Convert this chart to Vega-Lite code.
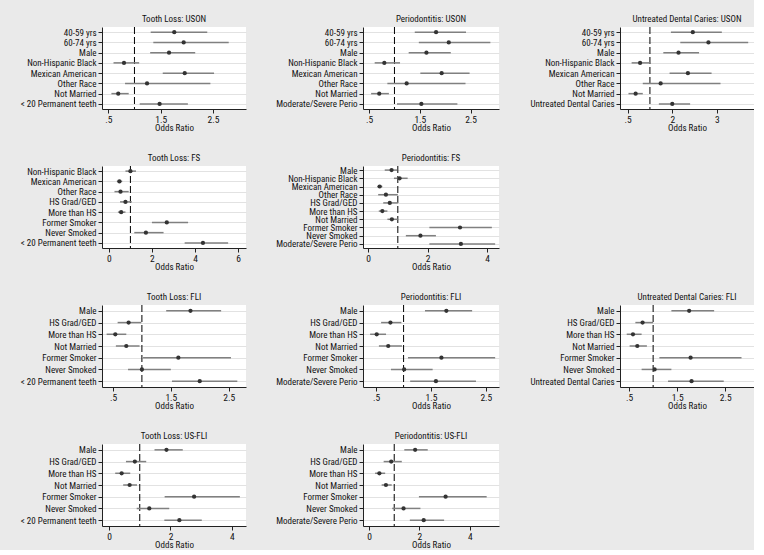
{
"$schema": "https://vega.github.io/schema/vega-lite/v6.json",
"background": "#eaeaea",
"padding": {"left": 5, "top": 14, "right": 0, "bottom": 0},
"config": {
 "font": "Roboto Condensed",
 "view": {"fill": "white", "stroke": null},
 "title": {"font": "Roboto Condensed", "fontSize": 9, "fontWeight": "normal", "color": "#111", "offset": 3, "frame": "group", "anchor": "middle"},
 "axis": {"labelFont": "Roboto Condensed", "titleFont": "Roboto Condensed", "labelColor": "#111", "domainColor": "#222", "tickColor": "#222", "tickSize": 4, "titleFontWeight": "normal", "titleColor": "#111", "labelOverlap": false},
 "axisY": {"grid": true, "gridColor": "#e2e2e2", "labelPadding": 2, "title": null},
 "axisX": {"grid": false, "labelPadding": 1, "titlePadding": 0, "labelFlush": false, "labelOverlap": false}
},
"datasets": {"d": [
{"p":1,"o":1,"l":"40-59 yrs","or":1.76,"lo":1.31,"hi":2.39},
{"p":1,"o":2,"l":"60-74 yrs","or":1.94,"lo":1.36,"hi":2.80},
{"p":1,"o":3,"l":"Male","or":1.66,"lo":1.30,"hi":2.16},
{"p":1,"o":4,"l":"Non-Hispanic Black","or":0.80,"lo":0.60,"hi":1.09},
{"p":1,"o":5,"l":"Mexican American","or":1.96,"lo":1.54,"hi":2.52},
{"p":1,"o":6,"l":"Other Race","or":1.24,"lo":0.82,"hi":2.45},
{"p":1,"o":7,"l":"Not Married","or":0.69,"lo":0.56,"hi":0.89},
{"p":1,"o":8,"l":"< 20 Permanent teeth","or":1.48,"lo":1.10,"hi":2.02},
{"p":2,"o":1,"l":"40-59 yrs","or":1.82,"lo":1.40,"hi":2.41},
{"p":2,"o":2,"l":"60-74 yrs","or":2.07,"lo":1.48,"hi":2.89},
{"p":2,"o":3,"l":"Male","or":1.63,"lo":1.28,"hi":2.11},
{"p":2,"o":4,"l":"Non-Hispanic Black","or":0.80,"lo":0.61,"hi":1.11},
{"p":2,"o":5,"l":"Mexican American","or":1.93,"lo":1.51,"hi":2.48},
{"p":2,"o":6,"l":"Other Race","or":1.24,"lo":0.86,"hi":2.40},
{"p":2,"o":7,"l":"Not Married","or":0.70,"lo":0.54,"hi":0.89},
{"p":2,"o":8,"l":"Moderate/Severe Perio","or":1.53,"lo":1.05,"hi":2.24},
{"p":3,"o":1,"l":"40-59 yrs","or":1.96,"lo":1.47,"hi":2.61},
{"p":3,"o":2,"l":"60-74 yrs","or":2.31,"lo":1.68,"hi":3.20},
{"p":3,"o":3,"l":"Male","or":1.64,"lo":1.30,"hi":2.10},
{"p":3,"o":4,"l":"Non-Hispanic Black","or":0.78,"lo":0.59,"hi":1.01},
{"p":3,"o":5,"l":"Mexican American","or":1.85,"lo":1.44,"hi":2.38},
{"p":3,"o":6,"l":"Other Race","or":1.24,"lo":0.84,"hi":2.58},
{"p":3,"o":7,"l":"Not Married","or":0.68,"lo":0.52,"hi":0.84},
{"p":3,"o":8,"l":"Untreated Dental Caries","or":1.50,"lo":1.20,"hi":1.90},
{"p":4,"o":1,"l":"Non-Hispanic Black","or":1.00,"lo":0.77,"hi":1.26},
{"p":4,"o":2,"l":"Mexican American","or":0.49,"lo":0.37,"hi":0.62},
{"p":4,"o":3,"l":"Other Race","or":0.54,"lo":0.26,"hi":0.92},
{"p":4,"o":4,"l":"HS Grad/GED","or":0.77,"lo":0.52,"hi":1.06},
{"p":4,"o":5,"l":"More than HS","or":0.57,"lo":0.42,"hi":0.77},
{"p":4,"o":6,"l":"Former Smoker","or":2.69,"lo":2.00,"hi":3.68},
{"p":4,"o":7,"l":"Never Smoked","or":1.72,"lo":1.18,"hi":2.54},
{"p":4,"o":8,"l":"< 20 Permanent teeth","or":4.37,"lo":3.52,"hi":5.54},
{"p":5,"o":1,"l":"Male","or":0.79,"lo":0.56,"hi":0.98},
{"p":5,"o":2,"l":"Non-Hispanic Black","or":1.06,"lo":0.87,"hi":1.33},
{"p":5,"o":3,"l":"Mexican American","or":0.39,"lo":0.31,"hi":0.48},
{"p":5,"o":4,"l":"Other Race","or":0.60,"lo":0.34,"hi":1.00},
{"p":5,"o":5,"l":"HS Grad/GED","or":0.73,"lo":0.51,"hi":1.00},
{"p":5,"o":6,"l":"More than HS","or":0.48,"lo":0.36,"hi":0.65},
{"p":5,"o":7,"l":"Not Married","or":0.80,"lo":0.65,"hi":1.00},
{"p":5,"o":8,"l":"Former Smoker","or":3.09,"lo":2.06,"hi":4.16},
{"p":5,"o":9,"l":"Never Smoked","or":1.76,"lo":1.27,"hi":2.28},
{"p":5,"o":10,"l":"Moderate/Severe Perio","or":3.12,"lo":2.06,"hi":4.27},
{"p":6,"o":1,"l":"Male","or":1.84,"lo":1.42,"hi":2.37},
{"p":6,"o":2,"l":"HS Grad/GED","or":0.77,"lo":0.58,"hi":0.99},
{"p":6,"o":3,"l":"More than HS","or":0.54,"lo":0.39,"hi":0.73},
{"p":6,"o":4,"l":"Not Married","or":0.73,"lo":0.55,"hi":0.96},
{"p":6,"o":5,"l":"Former Smoker","or":1.63,"lo":1.02,"hi":2.54},
{"p":6,"o":6,"l":"Never Smoked","or":1.00,"lo":0.76,"hi":1.50},
{"p":6,"o":7,"l":"< 20 Permanent teeth","or":2.00,"lo":1.52,"hi":2.65},
{"p":7,"o":1,"l":"Male","or":1.78,"lo":1.39,"hi":2.25},
{"p":7,"o":2,"l":"HS Grad/GED","or":0.76,"lo":0.59,"hi":0.96},
{"p":7,"o":3,"l":"More than HS","or":0.51,"lo":0.39,"hi":0.68},
{"p":7,"o":4,"l":"Not Married","or":0.72,"lo":0.55,"hi":0.97},
{"p":7,"o":5,"l":"Former Smoker","or":1.69,"lo":1.08,"hi":2.67},
{"p":7,"o":6,"l":"Never Smoked","or":1.01,"lo":0.77,"hi":1.53},
{"p":7,"o":7,"l":"Moderate/Severe Perio","or":1.59,"lo":1.12,"hi":2.32},
{"p":8,"o":1,"l":"Male","or":1.75,"lo":1.38,"hi":2.27},
{"p":8,"o":2,"l":"HS Grad/GED","or":0.78,"lo":0.63,"hi":1.00},
{"p":8,"o":3,"l":"More than HS","or":0.58,"lo":0.45,"hi":0.76},
{"p":8,"o":4,"l":"Not Married","or":0.67,"lo":0.51,"hi":0.87},
{"p":8,"o":5,"l":"Former Smoker","or":1.78,"lo":1.13,"hi":2.84},
{"p":8,"o":6,"l":"Never Smoked","or":1.03,"lo":0.76,"hi":1.38},
{"p":8,"o":7,"l":"Untreated Dental Caries","or":1.80,"lo":1.31,"hi":2.47},
{"p":9,"o":1,"l":"Male","or":1.87,"lo":1.48,"hi":2.40},
{"p":9,"o":2,"l":"HS Grad/GED","or":0.84,"lo":0.55,"hi":1.21},
{"p":9,"o":3,"l":"More than HS","or":0.41,"lo":0.20,"hi":0.69},
{"p":9,"o":4,"l":"Not Married","or":0.67,"lo":0.46,"hi":0.91},
{"p":9,"o":5,"l":"Former Smoker","or":2.77,"lo":1.81,"hi":4.26},
{"p":9,"o":6,"l":"Never Smoked","or":1.31,"lo":0.90,"hi":1.96},
{"p":9,"o":7,"l":"< 20 Permanent teeth","or":2.29,"lo":1.80,"hi":3.02},
{"p":10,"o":1,"l":"Male","or":1.83,"lo":1.40,"hi":2.33},
{"p":10,"o":2,"l":"HS Grad/GED","or":0.88,"lo":0.58,"hi":1.30},
{"p":10,"o":3,"l":"More than HS","or":0.41,"lo":0.24,"hi":0.64},
{"p":10,"o":4,"l":"Not Married","or":0.67,"lo":0.50,"hi":0.90},
{"p":10,"o":5,"l":"Former Smoker","or":3.04,"lo":1.98,"hi":4.67},
{"p":10,"o":6,"l":"Never Smoked","or":1.37,"lo":0.92,"hi":2.04},
{"p":10,"o":7,"l":"Moderate/Severe Perio","or":2.17,"lo":1.62,"hi":2.98}
]},
"spacing": 20,
"vconcat": [
{"spacing": 20, "hconcat": [
 {"width": 144, "height": 82, "title": "Tooth Loss: USON", "layer": [
  {"data": {"values": [{"v": 1}]}, "mark": {"type": "rule", "color": "#000", "strokeDash": [7, 3]}, "encoding": {"x": {"field": "v", "type": "quantitative", "scale": {"domain": [0.38, 3.13], "nice": false, "zero": false}, "axis": {"values": [0.5, 1, 1.5, 2, 2.5, 3], "format": "~g", "labelExpr": "datum.value == 0.5 ? '.5' : datum.label", "title": "Odds Ratio", "labelOverlap": false, "labelFontSize": 9.5, "titleFontSize": 9}}}},
  {"data": {"name": "d"}, "transform": [{"filter": "datum.p == 1"}], "mark": {"type": "rule", "color": "#808080", "strokeWidth": 1.5}, "encoding": {"x": {"field": "lo", "type": "quantitative"}, "x2": {"field": "hi"}, "y": {"field": "l", "type": "nominal", "sort": {"field": "o"}, "scale": {"type": "point", "padding": 0.5}, "axis": {"minExtent": 97, "labelFontSize": 9, "labelOverlap": false}}}},
  {"data": {"name": "d"}, "transform": [{"filter": "datum.p == 1"}], "mark": {"type": "point", "filled": true, "color": "#333", "size": 18, "opacity": 1}, "encoding": {"x": {"field": "or", "type": "quantitative"}, "y": {"field": "l", "type": "nominal", "sort": {"field": "o"}}}}
 ]},
 {"width": 136, "height": 82, "title": "Periodontitis: USON", "layer": [
  {"data": {"values": [{"v": 1}]}, "mark": {"type": "rule", "color": "#000", "strokeDash": [7, 3]}, "encoding": {"x": {"field": "v", "type": "quantitative", "scale": {"domain": [0.38, 3.06], "nice": false, "zero": false}, "axis": {"values": [0.5, 1, 1.5, 2, 2.5, 3], "format": "~g", "labelExpr": "datum.value == 0.5 ? '.5' : datum.label", "title": "Odds Ratio", "labelOverlap": false, "labelFontSize": 9.5, "titleFontSize": 9}}}},
  {"data": {"name": "d"}, "transform": [{"filter": "datum.p == 2"}], "mark": {"type": "rule", "color": "#808080", "strokeWidth": 1.5}, "encoding": {"x": {"field": "lo", "type": "quantitative"}, "x2": {"field": "hi"}, "y": {"field": "l", "type": "nominal", "sort": {"field": "o"}, "scale": {"type": "point", "padding": 0.5}, "axis": {"minExtent": 97, "labelFontSize": 9, "labelOverlap": false}}}},
  {"data": {"name": "d"}, "transform": [{"filter": "datum.p == 2"}], "mark": {"type": "point", "filled": true, "color": "#333", "size": 18, "opacity": 1}, "encoding": {"x": {"field": "or", "type": "quantitative"}, "y": {"field": "l", "type": "nominal", "sort": {"field": "o"}}}}
 ]},
 {"width": 134, "height": 82, "title": "Untreated Dental Caries: USON", "layer": [
  {"data": {"values": [{"v": 1}]}, "mark": {"type": "rule", "color": "#000", "strokeDash": [7, 3]}, "encoding": {"x": {"field": "v", "type": "quantitative", "scale": {"domain": [0.33, 3.33], "nice": false, "zero": false}, "axis": {"values": [0.5, 1, 1.5, 2, 2.5, 3], "format": "~g", "labelExpr": "datum.value == 0.5 ? '.5' : datum.label", "title": "Odds Ratio", "labelOverlap": false, "labelFontSize": 9.5, "titleFontSize": 9}}}},
  {"data": {"name": "d"}, "transform": [{"filter": "datum.p == 3"}], "mark": {"type": "rule", "color": "#808080", "strokeWidth": 1.5}, "encoding": {"x": {"field": "lo", "type": "quantitative"}, "x2": {"field": "hi"}, "y": {"field": "l", "type": "nominal", "sort": {"field": "o"}, "scale": {"type": "point", "padding": 0.5}, "axis": {"minExtent": 101, "labelFontSize": 9, "labelOverlap": false}}}},
  {"data": {"name": "d"}, "transform": [{"filter": "datum.p == 3"}], "mark": {"type": "point", "filled": true, "color": "#333", "size": 18, "opacity": 1}, "encoding": {"x": {"field": "or", "type": "quantitative"}, "y": {"field": "l", "type": "nominal", "sort": {"field": "o"}}}}
 ]}
]},
{"spacing": 20, "hconcat": [
 {"width": 144, "height": 82, "title": "Tooth Loss: FS", "layer": [
  {"data": {"values": [{"v": 1}]}, "mark": {"type": "rule", "color": "#000", "strokeDash": [7, 3]}, "encoding": {"x": {"field": "v", "type": "quantitative", "scale": {"domain": [-0.32, 6.37], "nice": false, "zero": false}, "axis": {"values": [0, 2, 4, 6], "format": "~g", "title": "Odds Ratio", "labelOverlap": false, "labelFontSize": 9.5, "titleFontSize": 9}}}},
  {"data": {"name": "d"}, "transform": [{"filter": "datum.p == 4"}], "mark": {"type": "rule", "color": "#808080", "strokeWidth": 1.5}, "encoding": {"x": {"field": "lo", "type": "quantitative"}, "x2": {"field": "hi"}, "y": {"field": "l", "type": "nominal", "sort": {"field": "o"}, "scale": {"type": "point", "padding": 0.5}, "axis": {"minExtent": 97, "labelFontSize": 9, "labelOverlap": false}}}},
  {"data": {"name": "d"}, "transform": [{"filter": "datum.p == 4"}], "mark": {"type": "point", "filled": true, "color": "#333", "size": 18, "opacity": 1}, "encoding": {"x": {"field": "or", "type": "quantitative"}, "y": {"field": "l", "type": "nominal", "sort": {"field": "o"}}}}
 ]},
 {"width": 136, "height": 82, "title": "Periodontitis: FS", "layer": [
  {"data": {"values": [{"v": 1}]}, "mark": {"type": "rule", "color": "#000", "strokeDash": [7, 3]}, "encoding": {"x": {"field": "v", "type": "quantitative", "scale": {"domain": [-0.17, 4.4], "nice": false, "zero": false}, "axis": {"values": [0, 1, 2, 3, 4], "format": "~g", "title": "Odds Ratio", "labelOverlap": false, "labelFontSize": 9.5, "titleFontSize": 9}}}},
  {"data": {"name": "d"}, "transform": [{"filter": "datum.p == 5"}], "mark": {"type": "rule", "color": "#808080", "strokeWidth": 1.5}, "encoding": {"x": {"field": "lo", "type": "quantitative"}, "x2": {"field": "hi"}, "y": {"field": "l", "type": "nominal", "sort": {"field": "o"}, "scale": {"type": "point", "padding": 0.5}, "axis": {"minExtent": 97, "labelFontSize": 9, "labelOverlap": false}}}},
  {"data": {"name": "d"}, "transform": [{"filter": "datum.p == 5"}], "mark": {"type": "point", "filled": true, "color": "#333", "size": 18, "opacity": 1}, "encoding": {"x": {"field": "or", "type": "quantitative"}, "y": {"field": "l", "type": "nominal", "sort": {"field": "o"}}}}
 ]}
]},
{"spacing": 20, "hconcat": [
 {"width": 144, "height": 82, "title": "Tooth Loss: FLI", "layer": [
  {"data": {"values": [{"v": 1}]}, "mark": {"type": "rule", "color": "#000", "strokeDash": [7, 3]}, "encoding": {"x": {"field": "v", "type": "quantitative", "scale": {"domain": [0.31, 2.8], "nice": false, "zero": false}, "axis": {"values": [0.5, 1, 1.5, 2, 2.5], "format": "~g", "labelExpr": "datum.value == 0.5 ? '.5' : datum.label", "title": "Odds Ratio", "labelOverlap": false, "labelFontSize": 9.5, "titleFontSize": 9}}}},
  {"data": {"name": "d"}, "transform": [{"filter": "datum.p == 6"}], "mark": {"type": "rule", "color": "#808080", "strokeWidth": 1.5}, "encoding": {"x": {"field": "lo", "type": "quantitative"}, "x2": {"field": "hi"}, "y": {"field": "l", "type": "nominal", "sort": {"field": "o"}, "scale": {"type": "point", "padding": 0.5}, "axis": {"minExtent": 97, "labelFontSize": 9, "labelOverlap": false}}}},
  {"data": {"name": "d"}, "transform": [{"filter": "datum.p == 6"}], "mark": {"type": "point", "filled": true, "color": "#333", "size": 18, "opacity": 1}, "encoding": {"x": {"field": "or", "type": "quantitative"}, "y": {"field": "l", "type": "nominal", "sort": {"field": "o"}}}}
 ]},
 {"width": 136, "height": 82, "title": "Periodontitis: FLI", "layer": [
  {"data": {"values": [{"v": 1}]}, "mark": {"type": "rule", "color": "#000", "strokeDash": [7, 3]}, "encoding": {"x": {"field": "v", "type": "quantitative", "scale": {"domain": [0.26, 2.74], "nice": false, "zero": false}, "axis": {"values": [0.5, 1, 1.5, 2, 2.5], "format": "~g", "labelExpr": "datum.value == 0.5 ? '.5' : datum.label", "title": "Odds Ratio", "labelOverlap": false, "labelFontSize": 9.5, "titleFontSize": 9}}}},
  {"data": {"name": "d"}, "transform": [{"filter": "datum.p == 7"}], "mark": {"type": "rule", "color": "#808080", "strokeWidth": 1.5}, "encoding": {"x": {"field": "lo", "type": "quantitative"}, "x2": {"field": "hi"}, "y": {"field": "l", "type": "nominal", "sort": {"field": "o"}, "scale": {"type": "point", "padding": 0.5}, "axis": {"minExtent": 97, "labelFontSize": 9, "labelOverlap": false}}}},
  {"data": {"name": "d"}, "transform": [{"filter": "datum.p == 7"}], "mark": {"type": "point", "filled": true, "color": "#333", "size": 18, "opacity": 1}, "encoding": {"x": {"field": "or", "type": "quantitative"}, "y": {"field": "l", "type": "nominal", "sort": {"field": "o"}}}}
 ]},
 {"width": 134, "height": 82, "title": "Untreated Dental Caries: FLI", "layer": [
  {"data": {"values": [{"v": 1}]}, "mark": {"type": "rule", "color": "#000", "strokeDash": [7, 3]}, "encoding": {"x": {"field": "v", "type": "quantitative", "scale": {"domain": [0.31, 3.1], "nice": false, "zero": false}, "axis": {"values": [0.5, 1, 1.5, 2, 2.5, 3], "format": "~g", "labelExpr": "datum.value == 0.5 ? '.5' : datum.label", "title": "Odds Ratio", "labelOverlap": false, "labelFontSize": 9.5, "titleFontSize": 9}}}},
  {"data": {"name": "d"}, "transform": [{"filter": "datum.p == 8"}], "mark": {"type": "rule", "color": "#808080", "strokeWidth": 1.5}, "encoding": {"x": {"field": "lo", "type": "quantitative"}, "x2": {"field": "hi"}, "y": {"field": "l", "type": "nominal", "sort": {"field": "o"}, "scale": {"type": "point", "padding": 0.5}, "axis": {"minExtent": 101, "labelFontSize": 9, "labelOverlap": false}}}},
  {"data": {"name": "d"}, "transform": [{"filter": "datum.p == 8"}], "mark": {"type": "point", "filled": true, "color": "#333", "size": 18, "opacity": 1}, "encoding": {"x": {"field": "or", "type": "quantitative"}, "y": {"field": "l", "type": "nominal", "sort": {"field": "o"}}}}
 ]}
]},
{"spacing": 20, "hconcat": [
 {"width": 144, "height": 82, "title": "Tooth Loss: US-FLI", "layer": [
  {"data": {"values": [{"v": 1}]}, "mark": {"type": "rule", "color": "#000", "strokeDash": [7, 3]}, "encoding": {"x": {"field": "v", "type": "quantitative", "scale": {"domain": [-0.23, 4.46], "nice": false, "zero": false}, "axis": {"values": [0, 1, 2, 3, 4], "format": "~g", "title": "Odds Ratio", "labelOverlap": false, "labelFontSize": 9.5, "titleFontSize": 9}}}},
  {"data": {"name": "d"}, "transform": [{"filter": "datum.p == 9"}], "mark": {"type": "rule", "color": "#808080", "strokeWidth": 1.5}, "encoding": {"x": {"field": "lo", "type": "quantitative"}, "x2": {"field": "hi"}, "y": {"field": "l", "type": "nominal", "sort": {"field": "o"}, "scale": {"type": "point", "padding": 0.5}, "axis": {"minExtent": 97, "labelFontSize": 9, "labelOverlap": false}}}},
  {"data": {"name": "d"}, "transform": [{"filter": "datum.p == 9"}], "mark": {"type": "point", "filled": true, "color": "#333", "size": 18, "opacity": 1}, "encoding": {"x": {"field": "or", "type": "quantitative"}, "y": {"field": "l", "type": "nominal", "sort": {"field": "o"}}}}
 ]},
 {"width": 136, "height": 82, "title": "Periodontitis: US-FLI", "layer": [
  {"data": {"values": [{"v": 1}]}, "mark": {"type": "rule", "color": "#000", "strokeDash": [7, 3]}, "encoding": {"x": {"field": "v", "type": "quantitative", "scale": {"domain": [-0.24, 5.16], "nice": false, "zero": false}, "axis": {"values": [0, 1, 2, 3, 4, 5], "format": "~g", "title": "Odds Ratio", "labelOverlap": false, "labelFontSize": 9.5, "titleFontSize": 9}}}},
  {"data": {"name": "d"}, "transform": [{"filter": "datum.p == 10"}], "mark": {"type": "rule", "color": "#808080", "strokeWidth": 1.5}, "encoding": {"x": {"field": "lo", "type": "quantitative"}, "x2": {"field": "hi"}, "y": {"field": "l", "type": "nominal", "sort": {"field": "o"}, "scale": {"type": "point", "padding": 0.5}, "axis": {"minExtent": 97, "labelFontSize": 9, "labelOverlap": false}}}},
  {"data": {"name": "d"}, "transform": [{"filter": "datum.p == 10"}], "mark": {"type": "point", "filled": true, "color": "#333", "size": 18, "opacity": 1}, "encoding": {"x": {"field": "or", "type": "quantitative"}, "y": {"field": "l", "type": "nominal", "sort": {"field": "o"}}}}
 ]}
]}
]
}
